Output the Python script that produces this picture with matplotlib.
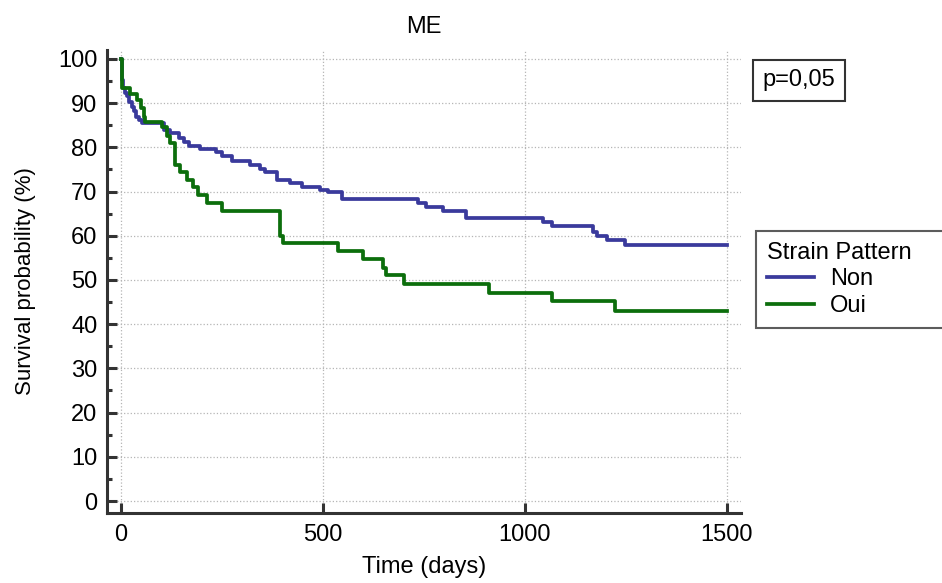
import matplotlib
matplotlib.use('Agg')
import matplotlib.pyplot as plt
from matplotlib.ticker import MultipleLocator

plt.rcParams['font.family'] = ['Liberation Sans', 'DejaVu Sans']

# Courbes de survie (temps en jours, survie en %)
non_time = [0, 1, 4, 9, 15, 19, 26, 31, 37, 44, 52, 106, 122, 143, 155, 168, 196,
            234, 249, 274, 320, 344, 357, 386, 417, 448, 493, 513, 547, 736, 755,
            796, 853, 1044, 1067, 1168, 1178, 1204, 1248, 1500]
non_surv = [100, 95.2, 93.4, 92.2, 91.5, 90.3, 89.2, 88.1, 86.9, 86.2, 85.4, 83.9,
            83.2, 82.1, 81.1, 80.4, 79.6, 78.9, 78.1, 76.8, 75.9, 75.0, 74.4, 72.6,
            72.0, 71.1, 70.4, 69.8, 68.2, 67.4, 66.4, 65.7, 64.0, 63.0, 62.2, 60.9,
            60.0, 59.0, 57.8, 57.8]

oui_time = [0, 1, 23, 40, 48, 56, 60, 102, 113, 121, 134, 146, 164, 178, 191, 212,
            249, 393, 402, 536, 600, 649, 655, 701, 910, 1067, 1223, 1500]
oui_surv = [100, 93.4, 92.0, 90.7, 88.8, 86.9, 85.8, 84.7, 82.6, 80.9, 76.0, 74.5,
            72.6, 71.1, 69.2, 67.4, 65.5, 60.0, 58.3, 56.6, 54.7, 52.8, 51.1, 49.0,
            47.1, 45.2, 43.0, 43.0]

labels = ['Non', 'Oui']
colors = ['#3a3a9c', '#0c6e0c']
p_text = 'p=0,05'

fig = plt.figure(figsize=(9.42, 5.83), dpi=100)
ax = fig.add_axes([0.1136, 0.1201, 0.6730, 0.7941])

ax.step(non_time, non_surv, where='post', color=colors[0], lw=2.7, label=labels[0])
ax.step(oui_time, oui_surv, where='post', color=colors[1], lw=2.7, label=labels[1])

ax.set_xlim(-35, 1535)
ax.set_ylim(-2.7, 102)
ax.set_xticks([0, 500, 1000, 1500])
ax.yaxis.set_major_locator(MultipleLocator(10))
ax.yaxis.set_minor_locator(MultipleLocator(5))

for side in ['top', 'right']:
    ax.spines[side].set_visible(False)
for side in ['left', 'bottom']:
    ax.spines[side].set_linewidth(2.2)
    ax.spines[side].set_color('#333333')

ax.tick_params(which='major', direction='in', length=7.5, width=2.2, color='#333333',
               labelsize=17, pad=7)
ax.tick_params(axis='x', pad=8)
ax.tick_params(which='minor', direction='in', length=3.8, width=2.2, color='#333333')

ax.grid(True, which='major', linestyle=':', color='#b5b5b5', linewidth=0.9)
ax.set_axisbelow(True)

ax.set_title('ME', fontsize=17, pad=12)
ax.set_xlabel('Time (days)', fontsize=17, labelpad=7)
ax.set_ylabel('Survival probability (%)', fontsize=16, labelpad=16)

# Légende
leg = fig.legend(loc='upper left', bbox_to_anchor=(0.8025, 0.3396, 0.3, 0.2642),
                 mode='expand', title='Strain Pattern', fontsize=17, title_fontsize=17,
                 alignment='left', fancybox=False, edgecolor='#333333',
                 handlelength=2.0, handletextpad=0.7, borderaxespad=0,
                 labelspacing=0.2, borderpad=0.45)
leg.get_frame().set_linewidth(1.5)

# Valeur p
fig.text(0.848, 0.862, p_text, fontsize=17, ha='center', va='center',
         bbox=dict(boxstyle='square,pad=0.4', facecolor='white', edgecolor='#333333', lw=1.5))

fig.savefig('out.png', dpi=100)
